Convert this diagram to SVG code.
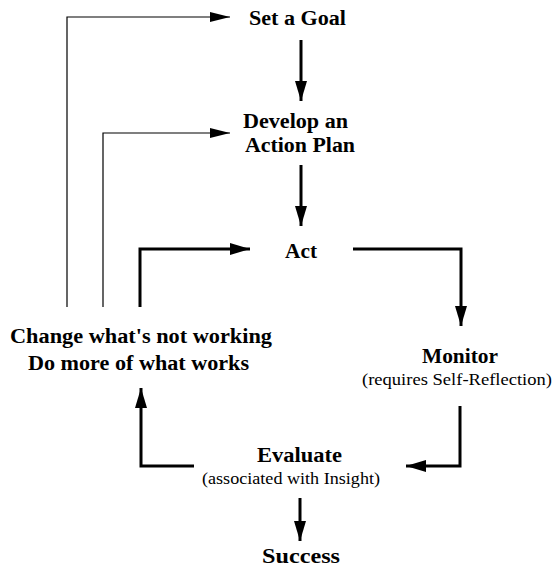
<svg xmlns="http://www.w3.org/2000/svg" width="554" height="574" viewBox="0 0 554 574">
<style>
.t{font-family:'Liberation Serif','Times New Roman',serif;font-weight:bold;font-size:20px;fill:#000}
.s{font-family:'Liberation Serif','Times New Roman',serif;font-size:16.5px;fill:#000}
.thin{fill:none;stroke:#000;stroke-width:1.2}
.thick{fill:none;stroke:#000;stroke-width:3}
</style>
<defs>
<marker id="ah" viewBox="0 0 20 10" refX="20" refY="5" markerWidth="20" markerHeight="10" markerUnits="userSpaceOnUse" orient="auto">
<path d="M0,0 L20,5 L0,10 Z" fill="#000"/>
</marker>
<marker id="ahb" viewBox="0 0 20 12" refX="20" refY="6" markerWidth="20" markerHeight="12" markerUnits="userSpaceOnUse" orient="auto">
<path d="M0,0 L20,6 L0,12 Z" fill="#000"/>
</marker>
</defs>
<rect width="554" height="574" fill="#fff"/>
<g id="connectors">
<path class="thin" d="M67,307 V17 H230" marker-end="url(#ah)"/>
<path class="thin" d="M103,307 V133 H230" marker-end="url(#ah)"/>
<path class="thick" d="M301,40 V101" marker-end="url(#ahb)"/>
<path class="thick" d="M301,165 V226" marker-end="url(#ahb)"/>
<path class="thick" d="M140,307 V249 H250" marker-end="url(#ahb)"/>
<path class="thick" d="M353,249 H461 V326" marker-end="url(#ahb)"/>
<path class="thick" d="M460,406 V466 H406" marker-end="url(#ahb)"/>
<path class="thick" d="M194,466 H141 V388" marker-end="url(#ahb)"/>
<path class="thick" d="M300,498 V541" marker-end="url(#ahb)"/>
</g>
<g id="goal"><text class="t" x="249" y="25" textLength="97" lengthAdjust="spacingAndGlyphs">Set a Goal</text></g>
<g id="plan">
<text class="t" x="243" y="128" textLength="105" lengthAdjust="spacingAndGlyphs">Develop an</text>
<text class="t" x="245" y="152" textLength="110" lengthAdjust="spacingAndGlyphs">Action Plan</text>
</g>
<g id="act"><text class="t" x="285" y="258" textLength="32" lengthAdjust="spacingAndGlyphs">Act</text></g>
<g id="monitor">
<text class="t" x="422" y="363" textLength="76" lengthAdjust="spacingAndGlyphs">Monitor</text>
<text class="s" x="362" y="385" textLength="190" lengthAdjust="spacingAndGlyphs">(requires Self-Reflection)</text>
</g>
<g id="evaluate">
<text class="t" x="257" y="462" textLength="85" lengthAdjust="spacingAndGlyphs">Evaluate</text>
<text class="s" x="202" y="484" textLength="178" lengthAdjust="spacingAndGlyphs">(associated with Insight)</text>
</g>
<g id="change">
<text class="t" x="10" y="343" textLength="262" lengthAdjust="spacingAndGlyphs">Change what's not working</text>
<text class="t" x="28" y="370" textLength="221" lengthAdjust="spacingAndGlyphs">Do more of what works</text>
</g>
<g id="success"><text class="t" x="262" y="563" textLength="78" lengthAdjust="spacingAndGlyphs">Success</text></g>
</svg>
